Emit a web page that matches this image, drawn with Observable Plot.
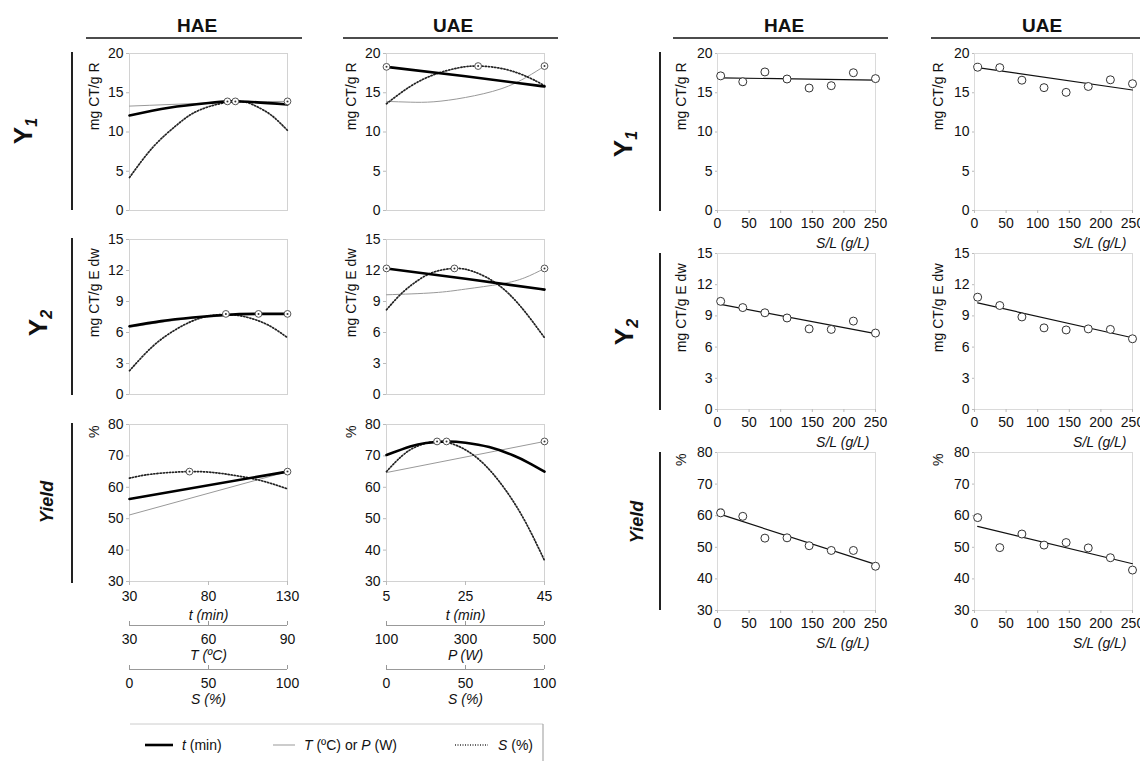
<!DOCTYPE html>
<html><head><meta charset="utf-8">
<script src="https://cdn.jsdelivr.net/npm/d3@7"></script>
<script src="https://cdn.jsdelivr.net/npm/@observablehq/plot@0.6"></script>
<style>
html,body{margin:0;padding:0;background:#fff;}
#root{position:relative;width:1140px;height:761px;overflow:hidden;font-family:"Liberation Sans",Arial,Helvetica,sans-serif;}
</style></head><body><div id="root"></div>
<script>
// ===================== DATA =====================
// factor ranges (left block): t on main axis, T/P and S on secondary axes
const haeRanges = {t: [30, 130], V: [30, 90], S: [0, 100]};
const uaeRanges = {t: [5, 45], V: [100, 500], S: [0, 100]};

// tick labels
const haeTTicks = [30, 80, 130];
const haeVTicks = [30, 60, 90];
const uaeTTicks = [5, 25, 45];
const uaeVTicks = [100, 300, 500];
const sTicks = [0, 50, 100];
const slTicks = [0, 50, 100, 150, 200, 250];
const y1Ticks = [0, 5, 10, 15, 20];
const y2Ticks = [0, 3, 6, 9, 12, 15];
const yieldTicks = [30, 40, 50, 60, 70, 80];

// ---- HAE Y1 ----
const haeY1_t_x = [30, 55, 80, 92, 105, 130];
const haeY1_t_y = [12.1, 13.1, 13.7, 13.9, 13.85, 13.5];
const haeY1_V_x = [30, 45, 60, 75, 90];
const haeY1_V_y = [13.3, 13.5, 13.7, 13.85, 13.9];
const haeY1_S_x = [0, 15, 30, 45, 67, 80, 90, 100];
const haeY1_S_y = [4.2, 8.1, 10.9, 12.85, 13.9, 13.3, 12.1, 10.2];
const haeY1_opt = [["t", 92, 13.9], ["S", 67, 13.9], ["V", 90, 13.9]];
// ---- HAE Y2 ----
const haeY2_t_x = [30, 50, 70, 90, 110, 130];
const haeY2_t_y = [6.6, 7.1, 7.45, 7.7, 7.8, 7.8];
const haeY2_V_x = [30, 48, 63, 79, 90];
const haeY2_V_y = [6.5, 7.2, 7.55, 7.8, 7.75];
const haeY2_S_x = [0, 15, 30, 45, 61, 75, 88, 100];
const haeY2_S_y = [2.3, 4.7, 6.35, 7.4, 7.75, 7.45, 6.7, 5.5];
const haeY2_opt = [["S", 61, 7.8], ["V", 79, 7.8], ["t", 130, 7.8]];
// ---- HAE Yield ----
const haeYd_t_x = [30, 130];
const haeYd_t_y = [56.3, 65.0];
const haeYd_V_x = [30, 90];
const haeYd_V_y = [51.2, 65.0];
const haeYd_S_x = [0, 15, 38, 55, 70, 85, 100];
const haeYd_S_y = [62.9, 64.25, 65.0, 64.6, 63.5, 61.9, 59.5];
const haeYd_opt = [["S", 38, 65.0], ["t", 130, 65.0]];
// ---- UAE Y1 ----
const uaeY1_t_x = [5, 25, 45];
const uaeY1_t_y = [18.3, 17.1, 15.8];
const uaeY1_V_x = [100, 160, 220, 300, 390, 455, 500];
const uaeY1_V_y = [13.9, 13.8, 13.85, 14.4, 15.5, 17.0, 18.4];
const uaeY1_S_x = [0, 15, 30, 45, 58, 75, 90, 100];
const uaeY1_S_y = [13.6, 15.8, 17.3, 18.15, 18.4, 18.0, 16.95, 15.9];
const uaeY1_opt = [["t", 5, 18.3], ["S", 58, 18.4], ["V", 500, 18.4]];
// ---- UAE Y2 ----
const uaeY2_t_x = [5, 25, 45];
const uaeY2_t_y = [12.2, 11.2, 10.15];
const uaeY2_V_x = [100, 220, 300, 390, 450, 500];
const uaeY2_V_y = [9.65, 9.85, 10.2, 10.7, 11.3, 12.2];
const uaeY2_S_x = [0, 10, 20, 30, 43, 55, 70, 85, 100];
const uaeY2_S_y = [8.2, 9.85, 11.05, 11.85, 12.2, 11.9, 10.7, 8.5, 5.5];
const uaeY2_opt = [["t", 5, 12.2], ["S", 43, 12.2], ["V", 500, 12.2]];
// ---- UAE Yield ----
const uaeYd_t_x = [5, 11, 15, 20.2, 25, 31, 37, 41, 45];
const uaeYd_t_y = [70.3, 73.0, 74.1, 74.6, 74.2, 72.8, 70.2, 67.8, 65.0];
const uaeYd_V_x = [100, 500];
const uaeYd_V_y = [64.7, 74.6];
const uaeYd_S_x = [0, 10, 20, 32, 45, 60, 75, 88, 100];
const uaeYd_S_y = [65.0, 70.1, 73.2, 74.6, 73.2, 68.2, 59.4, 48.9, 36.7];
const uaeYd_opt = [["S", 32, 74.6], ["t", 20.2, 74.6], ["V", 500, 74.6]];

// ---- right block: S/L scatter ----
const slValues = [5, 40, 75, 110, 145, 180, 215, 250];
const haeY1Pts = [17.15, 16.4, 17.65, 16.75, 15.6, 15.9, 17.55, 16.8];
const uaeY1Pts = [18.25, 18.2, 16.6, 15.65, 15.05, 15.8, 16.65, 16.15];
const haeY2Pts = [10.4, 9.8, 9.3, 8.8, 7.75, 7.7, 8.5, 7.35];
const uaeY2Pts = [10.8, 10.0, 8.9, 7.85, 7.65, 7.75, 7.7, 6.8];
const haeYdPts = [60.9, 59.8, 52.9, 53.0, 50.5, 49.0, 49.0, 44.0];
const uaeYdPts = [59.4, 49.9, 54.2, 50.7, 51.5, 49.8, 46.7, 42.8];
const fitX = [5, 250];
const haeY1Fit = [16.9, 16.6];
const uaeY1Fit = [18.2, 15.35];
const haeY2Fit = [10.1, 7.3];
const uaeY2Fit = [10.25, 6.9];
const haeYdFit = [60.4, 44.6];
const uaeYdFit = [56.6, 44.8];

// ===================== DRAWING =====================
const FONT = '"Liberation Sans", Arial, Helvetica, sans-serif';
const root = document.getElementById("root");
const W = 240, ML = 70, MR = 12;
const DOTS = "1.2,1.9";

function place(el, left, top) {
  el.style.position = "absolute";
  el.style.left = left + "px";
  el.style.top = top + "px";
  root.appendChild(el);
}
const baseStyle = {fontSize: "14px", fontFamily: FONT, background: "transparent", color: "#111", overflow: "visible"};

function leftPanel(p) {
  const R = p.ranges;
  const conv = (k, v) => R.t[0] + (v - R[k][0]) / (R[k][1] - R[k][0]) * (R.t[1] - R.t[0]);
  const rows = (k, xs, ys) => xs.map((x, i) => ({x: conv(k, x), y: ys[i]}));
  const opt = p.opt.map(([k, x, y]) => ({x: conv(k, x), y}));
  const marks = [
    Plot.frame({stroke: "#d2d2d2"}),
    Plot.axisY({ticks: p.yTicks, tickSize: 3, tickPadding: 3, stroke: "#bbb", fill: "#111", label: null}),
    Plot.text([p.yTitle], {text: d => d, frameAnchor: "top-left", lineAnchor: "middle", dx: -35, dy: p.titleDy, rotate: -90, textAnchor: "end", fill: "#111"}),
    Plot.line(rows("V", p.V[0], p.V[1]), {x: "x", y: "y", curve: "natural", stroke: "#999", strokeWidth: 1}),
    Plot.line(rows("S", p.S[0], p.S[1]), {x: "x", y: "y", curve: "natural", stroke: "#222", strokeWidth: 1.7, strokeDasharray: DOTS}),
    Plot.line(rows("t", p.t[0], p.t[1]), {x: "x", y: "y", curve: "natural", stroke: "#000", strokeWidth: 2.6}),
    Plot.dot(opt, {x: "x", y: "y", r: 3.4, fill: "white", stroke: "#555", strokeWidth: 1}),
    Plot.dot(opt, {x: "x", y: "y", r: 1, fill: "#333"})
  ];
  if (p.xTicks) {
    marks.push(Plot.axisX({ticks: p.xTicks, tickSize: 4, tickPadding: 6, stroke: "#bbb", fill: "#111", label: null}));
    marks.push(Plot.text(["t (min)"], {text: d => d, frameAnchor: "bottom", lineAnchor: "middle", dy: 34, fontStyle: "italic", fill: "#111"}));
  }
  const svg = Plot.plot({
    width: W, height: 10 + p.fh + p.mb, marginLeft: ML, marginRight: MR, marginTop: 10, marginBottom: p.mb,
    x: {domain: R.t, axis: null}, y: {domain: p.yDomain, axis: null},
    style: baseStyle, marks
  });
  place(svg, p.left, p.top);
}

function rightPanel(p) {
  const pts = slValues.map((x, i) => ({x, y: p.pts[i]}));
  const fit = fitX.map((x, i) => ({x, y: p.fit[i]}));
  const svg = Plot.plot({
    width: W, height: 10 + p.fh + 45, marginLeft: ML, marginRight: MR, marginTop: 10, marginBottom: 45,
    x: {domain: [0, 250], axis: null}, y: {domain: p.yDomain, axis: null},
    style: baseStyle,
    marks: [
      Plot.frame({stroke: "#dadada"}),
      Plot.axisY({ticks: p.yTicks, tickSize: 2, tickPadding: 3, stroke: "#bbb", fill: "#111", label: null}),
      Plot.axisX({ticks: slTicks, tickSize: 3, tickPadding: 5, stroke: "#bbb", fill: "#111", label: null}),
      Plot.text([p.yTitle], {text: d => d, frameAnchor: "top-left", lineAnchor: "middle", dx: -36, dy: p.titleDy, rotate: -90, textAnchor: "end", fill: "#111"}),
      Plot.text(["S/L (g/L)"], {text: d => d, frameAnchor: "bottom-right", lineAnchor: "middle", dx: -6, dy: 33, textAnchor: "end", fontStyle: "italic", fill: "#111"}),
      Plot.line(fit, {x: "x", y: "y", stroke: "#111", strokeWidth: 1.2}),
      Plot.dot(pts, {x: "x", y: "y", r: 4, fill: "white", stroke: "#333", strokeWidth: 1})
    ]
  });
  place(svg, p.left, p.top);
}

function secAxis(left, top, range, ticks, title) {
  const svg = Plot.plot({
    width: W, height: 46, marginLeft: ML, marginRight: MR, marginTop: 2, marginBottom: 40,
    x: {domain: range, axis: null}, y: {domain: [0, 1], axis: null},
    style: baseStyle,
    marks: [
      Plot.ruleY([0], {stroke: "#999"}),
      Plot.tickX(ticks, {x: d => d, stroke: "#999"}),
      Plot.axisX({ticks, tickSize: 0, tickPadding: 9, fill: "#111", label: null}),
      Plot.text([title], {text: d => d, frameAnchor: "bottom", lineAnchor: "middle", dy: 30, fontStyle: "italic", fill: "#111"})
    ]
  });
  place(svg, left, top);
}

// ---- left block ----
const LH = 59, LU = 316;
leftPanel({left: LH, top: 43, fh: 157, mb: 10, ranges: haeRanges, yDomain: [0, 20], yTicks: y1Ticks, yTitle: "mg CT/g R", titleDy: 9,
  t: [haeY1_t_x, haeY1_t_y], V: [haeY1_V_x, haeY1_V_y], S: [haeY1_S_x, haeY1_S_y], opt: haeY1_opt});
leftPanel({left: LU, top: 43, fh: 157, mb: 10, ranges: uaeRanges, yDomain: [0, 20], yTicks: y1Ticks, yTitle: "mg CT/g R", titleDy: 9,
  t: [uaeY1_t_x, uaeY1_t_y], V: [uaeY1_V_x, uaeY1_V_y], S: [uaeY1_S_x, uaeY1_S_y], opt: uaeY1_opt});
leftPanel({left: LH, top: 229, fh: 155, mb: 10, ranges: haeRanges, yDomain: [0, 15], yTicks: y2Ticks, yTitle: "mg CT/g E dw", titleDy: 9,
  t: [haeY2_t_x, haeY2_t_y], V: [haeY2_V_x, haeY2_V_y], S: [haeY2_S_x, haeY2_S_y], opt: haeY2_opt});
leftPanel({left: LU, top: 229, fh: 155, mb: 10, ranges: uaeRanges, yDomain: [0, 15], yTicks: y2Ticks, yTitle: "mg CT/g E dw", titleDy: 9,
  t: [uaeY2_t_x, uaeY2_t_y], V: [uaeY2_V_x, uaeY2_V_y], S: [uaeY2_S_x, uaeY2_S_y], opt: uaeY2_opt});
leftPanel({left: LH, top: 414, fh: 157, mb: 45, ranges: haeRanges, yDomain: [30, 80], yTicks: yieldTicks, yTitle: "%", titleDy: 1, xTicks: haeTTicks,
  t: [haeYd_t_x, haeYd_t_y], V: [haeYd_V_x, haeYd_V_y], S: [haeYd_S_x, haeYd_S_y], opt: haeYd_opt});
leftPanel({left: LU, top: 414, fh: 157, mb: 45, ranges: uaeRanges, yDomain: [30, 80], yTicks: yieldTicks, yTitle: "%", titleDy: 1, xTicks: uaeTTicks,
  t: [uaeYd_t_x, uaeYd_t_y], V: [uaeYd_V_x, uaeYd_V_y], S: [uaeYd_S_x, uaeYd_S_y], opt: uaeYd_opt});

secAxis(LH, 619, haeRanges.V, haeVTicks, "T (ºC)");
secAxis(LH, 663, haeRanges.S, sTicks, "S (%)");
secAxis(LU, 619, uaeRanges.V, uaeVTicks, "P (W)");
secAxis(LU, 663, uaeRanges.S, sTicks, "S (%)");

// ---- right block ----
const RH = 647, RU = 904;
rightPanel({left: RH, top: 43, fh: 157, yDomain: [0, 20], yTicks: y1Ticks, yTitle: "mg CT/g R", titleDy: 9, pts: haeY1Pts, fit: haeY1Fit});
rightPanel({left: RU, top: 43, fh: 157, yDomain: [0, 20], yTicks: y1Ticks, yTitle: "mg CT/g R", titleDy: 9, pts: uaeY1Pts, fit: uaeY1Fit});
rightPanel({left: RH, top: 243, fh: 156, yDomain: [0, 15], yTicks: y2Ticks, yTitle: "mg CT/g E dw", titleDy: 10, pts: haeY2Pts, fit: haeY2Fit});
rightPanel({left: RU, top: 243, fh: 156, yDomain: [0, 15], yTicks: y2Ticks, yTitle: "mg CT/g E dw", titleDy: 10, pts: uaeY2Pts, fit: uaeY2Fit});
rightPanel({left: RH, top: 442, fh: 158, yDomain: [30, 80], yTicks: yieldTicks, yTitle: "%", titleDy: 1, pts: haeYdPts, fit: haeYdFit});
rightPanel({left: RU, top: 442, fh: 158, yDomain: [30, 80], yTicks: yieldTicks, yTitle: "%", titleDy: 1, pts: uaeYdPts, fit: uaeYdFit});

// ---- overlay: headers, row labels, legend ----
const ov = d3.select(root).append("svg")
  .attr("width", 1140).attr("height", 761)
  .style("position", "absolute").style("left", "0px").style("top", "0px")
  .style("font-family", FONT);

const headers = [
  {text: "HAE", cx: 197, x1: 86, x2: 302},
  {text: "UAE", cx: 453, x1: 343, x2: 558},
  {text: "HAE", cx: 784, x1: 673, x2: 888},
  {text: "UAE", cx: 1042, x1: 931, x2: 1140}
];
for (const h of headers) {
  ov.append("text").attr("x", h.cx).attr("y", 32).attr("text-anchor", "middle")
    .attr("font-size", 19).attr("font-weight", "bold").attr("fill", "#111").text(h.text);
  ov.append("line").attr("x1", h.x1).attr("x2", h.x2).attr("y1", 38).attr("y2", 38)
    .attr("stroke", "#111").attr("stroke-width", 1.5);
}

const rowLabels = [
  {main: "Y", sub: "1", x: 32, y: 131, bar: [72, 52, 210]},
  {main: "Y", sub: "2", x: 47, y: 323, bar: [72, 238, 395]},
  {main: "Yield", x: 53, y: 502, bar: [72, 423, 583]},
  {main: "Y", sub: "1", x: 632, y: 144, bar: [660, 52, 211]},
  {main: "Y", sub: "2", x: 633, y: 332, bar: [660, 253, 410]},
  {main: "Yield", x: 643, y: 522, bar: [660, 452, 610]}
];
for (const r of rowLabels) {
  const t = ov.append("text").attr("transform", `translate(${r.x},${r.y}) rotate(-90)`)
    .attr("text-anchor", "middle").attr("font-weight", "bold").attr("fill", "#111");
  if (r.sub) {
    t.append("tspan").attr("font-size", 26).text(r.main);
    t.append("tspan").attr("font-size", 16).attr("font-style", "italic").attr("dy", 5).text(r.sub);
  } else {
    t.attr("font-size", 18).attr("font-style", "italic").text(r.main);
  }
  ov.append("line").attr("x1", r.bar[0]).attr("x2", r.bar[0]).attr("y1", r.bar[1]).attr("y2", r.bar[2])
    .attr("stroke", "#222").attr("stroke-width", 2);
}

// legend
ov.append("line").attr("x1", 130).attr("x2", 543).attr("y1", 724).attr("y2", 724).attr("stroke", "#ccc");
ov.append("line").attr("x1", 543).attr("x2", 543).attr("y1", 724).attr("y2", 761).attr("stroke", "#999");
const LY = 745;
ov.append("line").attr("x1", 145).attr("x2", 173).attr("y1", LY).attr("y2", LY).attr("stroke", "#000").attr("stroke-width", 2.6);
ov.append("line").attr("x1", 273).attr("x2", 295).attr("y1", LY).attr("y2", LY).attr("stroke", "#999").attr("stroke-width", 1);
ov.append("line").attr("x1", 455).attr("x2", 488).attr("y1", LY).attr("y2", LY).attr("stroke", "#333").attr("stroke-width", 1.3).attr("stroke-dasharray", "1,1.5");
function legText(x, parts) {
  const t = ov.append("text").attr("x", x).attr("y", LY + 5).attr("font-size", 14).attr("fill", "#111");
  for (const [s, it] of parts) t.append("tspan").attr("font-style", it ? "italic" : "normal").text(s);
}
legText(182, [["t", true], [" (min)", false]]);
legText(304, [["T", true], [" (ºC) or ", false], ["P", true], [" (W)", false]]);
legText(498, [["S", true], [" (%)", false]]);
</script></body></html>
